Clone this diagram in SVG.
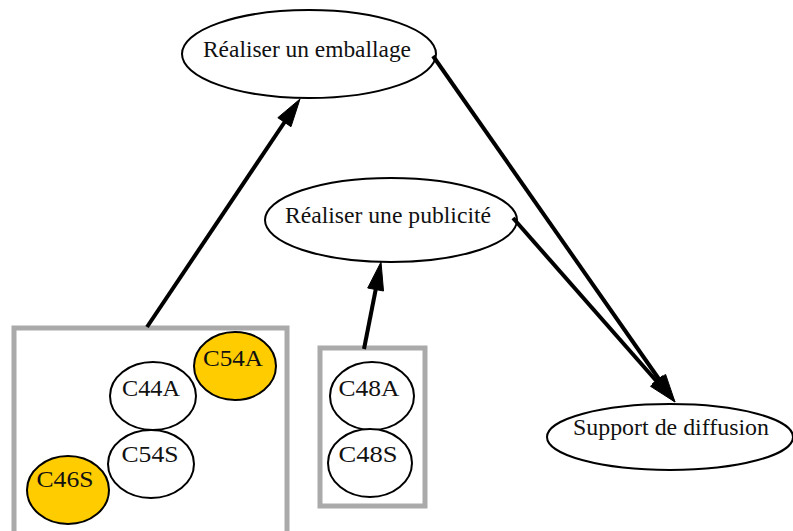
<svg xmlns="http://www.w3.org/2000/svg" width="793" height="531" viewBox="0 0 793 531">
<style>
.n{fill:#fff;stroke:#000;stroke-width:2}
.y{fill:#ffcc00;stroke:#000;stroke-width:2}
.cl{fill:none;stroke:#aaaaaa;stroke-width:5}
.t{font-family:"Liberation Serif","Times New Roman",serif;font-size:24px;fill:#111;text-anchor:middle}
.e{stroke:#000;stroke-width:4;fill:none}
.h{fill:#000;stroke:#000;stroke-width:1}
</style>
<rect width="793" height="531" fill="#fff"/>
<g id="cluster1"><rect class="cl" x="14" y="328" width="273" height="215"/></g>
<g id="cluster2"><rect class="cl" x="320" y="348" width="105" height="158"/></g>
<g id="n_emballage"><ellipse class="n" cx="309" cy="54" rx="127" ry="44"/><text class="t" x="307" y="57" textLength="208" lengthAdjust="spacingAndGlyphs">Réaliser un emballage</text></g>
<g id="n_publicite"><ellipse class="n" cx="391" cy="220" rx="126" ry="42"/><text class="t" x="388" y="223" textLength="206" lengthAdjust="spacingAndGlyphs">Réaliser une publicité</text></g>
<g id="n_support"><ellipse class="n" cx="670" cy="437" rx="123" ry="33"/><text class="t" x="671" y="435" textLength="196" lengthAdjust="spacingAndGlyphs">Support de diffusion</text></g>
<g id="n_C54A"><ellipse class="y" cx="235" cy="366" rx="41" ry="34"/><text class="t" x="233" y="366" textLength="60" lengthAdjust="spacingAndGlyphs">C54A</text></g>
<g id="n_C44A"><ellipse class="n" cx="153" cy="396" rx="43" ry="34"/><text class="t" x="151" y="396" textLength="58" lengthAdjust="spacingAndGlyphs">C44A</text></g>
<g id="n_C54S"><ellipse class="n" cx="151" cy="464" rx="43" ry="34"/><text class="t" x="150" y="462" textLength="57" lengthAdjust="spacingAndGlyphs">C54S</text></g>
<g id="n_C46S"><ellipse class="y" cx="68" cy="490" rx="41" ry="34"/><text class="t" x="65" y="487" textLength="57" lengthAdjust="spacingAndGlyphs">C46S</text></g>
<g id="n_C48A"><ellipse class="n" cx="372" cy="396" rx="42" ry="34"/><text class="t" x="369" y="396" textLength="61" lengthAdjust="spacingAndGlyphs">C48A</text></g>
<g id="n_C48S"><ellipse class="n" cx="370" cy="463" rx="42" ry="34"/><text class="t" x="368" y="462" textLength="59" lengthAdjust="spacingAndGlyphs">C48S</text></g>
<g id="connectors">
<line class="e" x1="147" y1="327" x2="286" y2="120"/>
<polygon class="h" points="300,99 291,126.7 277.8,117.7"/>
<line class="e" x1="364" y1="349" x2="376" y2="288"/>
<polygon class="h" points="381,262 383.5,291 367.7,288"/>
<line class="e" x1="433" y1="56" x2="661" y2="382"/>
<polygon class="h" points="675,402 652.4,383.6 665.6,374.4"/>
<line class="e" x1="513" y1="218" x2="659" y2="384"/>
<polygon class="h" points="675,402 650.5,386.3 662.5,375.7"/>
</g>
</svg>
